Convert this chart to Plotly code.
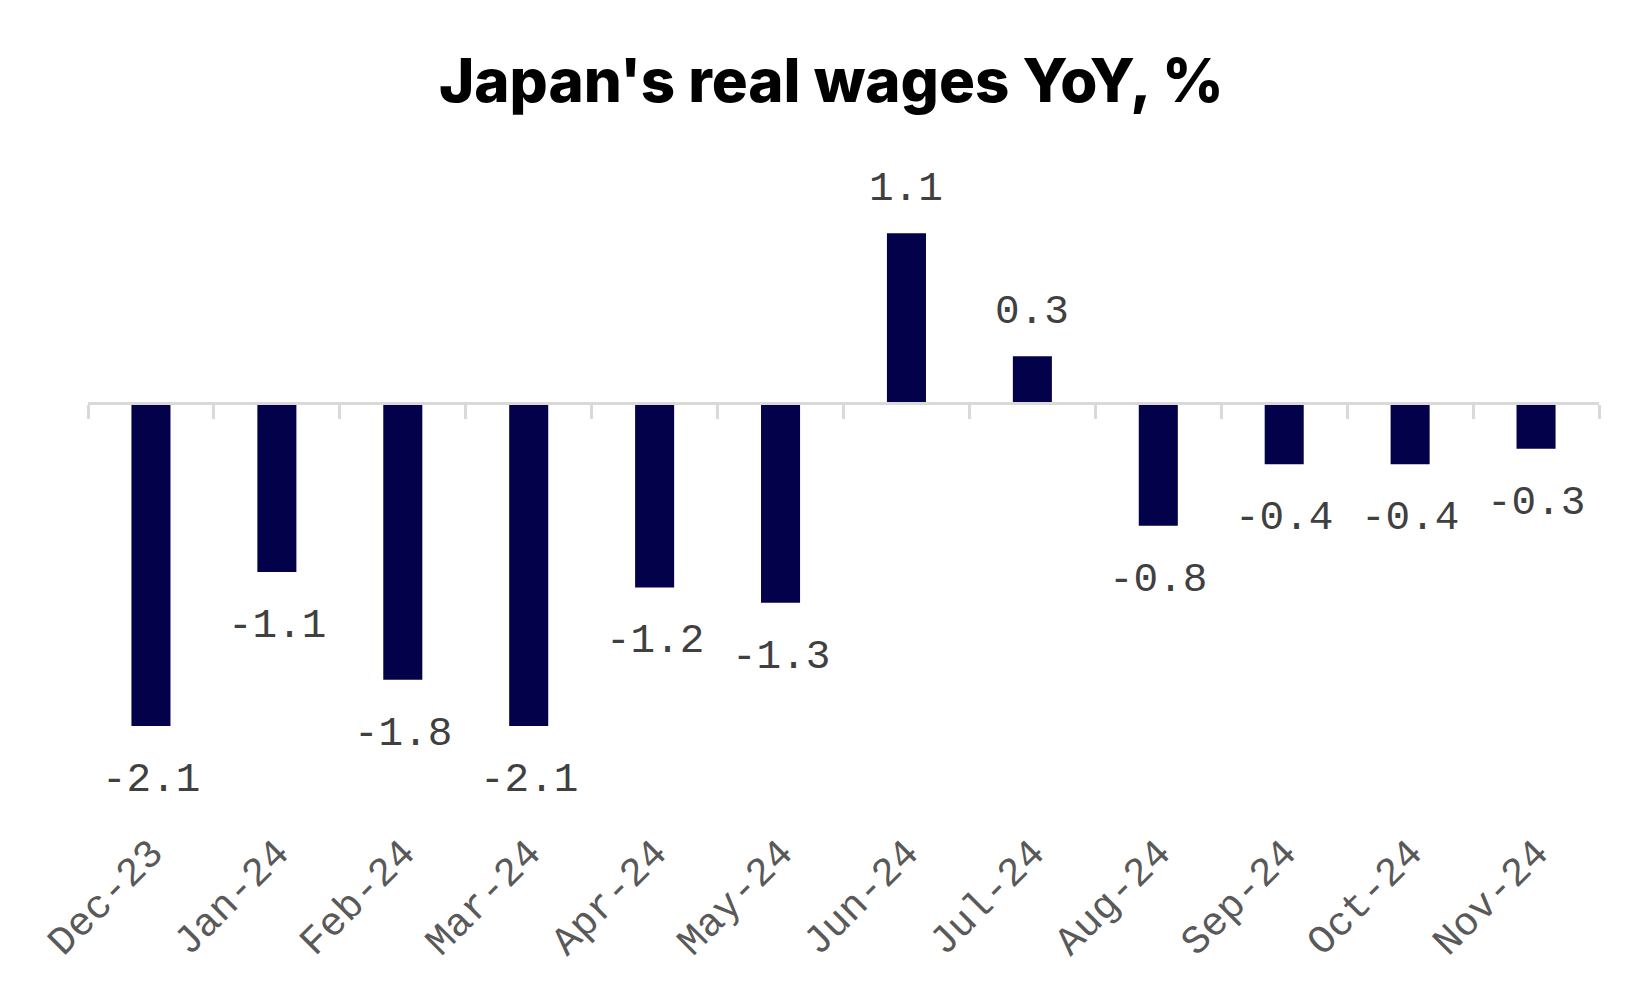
import plotly.graph_objects as go

categories = ["Dec-23", "Jan-24", "Feb-24", "Mar-24", "Apr-24", "May-24",
              "Jun-24", "Jul-24", "Aug-24", "Sep-24", "Oct-24", "Nov-24"]
values = [-2.1, -1.1, -1.8, -2.1, -1.2, -1.3, 1.1, 0.3, -0.8, -0.4, -0.4, -0.3]

title_text = "Japan's real wages YoY, %"
bar_color = "#03014a"
mono = "Liberation Mono, DejaVu Sans Mono, monospace"

y_min, y_max = -2.71, 1.51
zero_pos = (0 - y_min) / (y_max - y_min)

fig = go.Figure()
fig.add_trace(go.Bar(
    x=categories, y=values, width=0.31,
    marker=dict(color=bar_color, line=dict(width=0)),
    hoverinfo="x+y", showlegend=False,
))
# helper trace for the zero axis line with boundary ticks
fig.add_trace(go.Scatter(
    x=categories, y=[0] * len(categories), xaxis="x2", yaxis="y",
    mode="none", hoverinfo="skip", showlegend=False,
))

for c, v in zip(categories, values):
    fig.add_annotation(
        x=c, y=v, xref="x", yref="y",
        text=f"{v:.1f}", showarrow=False,
        yanchor="middle", xanchor="center",
        yshift=44 if v >= 0 else -54,
        font=dict(family=mono, size=41, color="#404040"),
    )

fig.update_layout(
    width=1650, height=990,
    paper_bgcolor="white", plot_bgcolor="white",
    margin=dict(l=80, r=59, t=162, b=178),
    title=dict(
        text=title_text, x=0.499, xanchor="center", xref="container",
        y=1 - 73 / 990, yanchor="middle", yref="container",
        font=dict(family="Inter, Roboto, sans-serif", size=60, color="black", weight=800),
    ),
    xaxis=dict(
        type="category", categoryorder="array", categoryarray=categories,
        range=[-0.5, len(categories) - 0.5],
        showline=False, showgrid=False, zeroline=False, ticks="",
        tickangle=-45,
        tickfont=dict(family=mono, size=40, color="#595959"),
    ),
    xaxis2=dict(
        type="category", categoryorder="array", categoryarray=categories,
        range=[-0.5, len(categories) - 0.5],
        overlaying="x", anchor="free", position=zero_pos,
        showticklabels=False, showgrid=False, zeroline=False,
        showline=True, linecolor="#d9d9d9", linewidth=3,
        ticks="outside", tickson="boundaries", ticklen=14,
        tickcolor="#d9d9d9", tickwidth=3,
    ),
    yaxis=dict(
        range=[y_min, y_max], visible=False, showgrid=False, zeroline=False,
    ),
)

fig.write_html("out.html")
